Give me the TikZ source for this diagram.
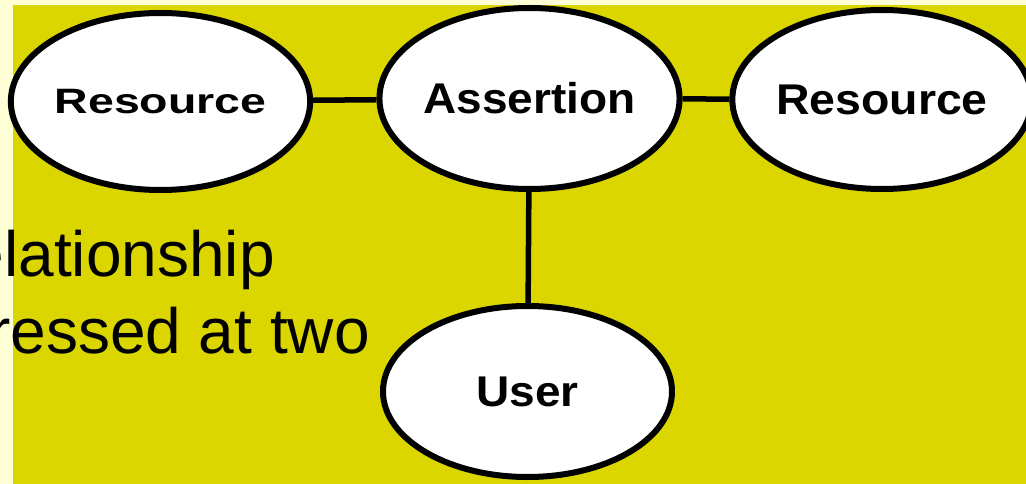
\documentclass[tikz,border=0pt]{standalone}
\usepackage{fontspec}
\setmainfont{Liberation Sans}
\usepackage{tikz}
\usetikzlibrary{shapes.geometric}

\definecolor{slideyellow}{RGB}{220,214,0}
\definecolor{slidecream}{RGB}{255,255,214}

\tikzset{
  entity/.style={ellipse,draw=black,line width=6pt,fill=white,inner sep=0pt,
    font=\fontsize{43}{50}\selectfont\bfseries},
  link/.style={black,line width=5.5pt}
}

\begin{document}
\begin{tikzpicture}[x=1pt,y=-1pt]

          \useasboundingbox (0,0) rectangle (1026,484);
          \clip (0,0) rectangle (1026,484);

          \fill[slideyellow] (0,0) rectangle (1026,484);
          \fill[slidecream] (0,0) rectangle (13,484);
          \fill[slidecream] (0,0) rectangle (1026,5);

          % text of the slide behind the picture
          \node[anchor=base east,inner sep=0pt,font=\fontsize{64}{77}\selectfont] (line1) at (275,276) {elationship};
          \node[anchor=base east,inner sep=0pt,font=\fontsize{64}{77}\selectfont] (line2) at (370,353) {ressed at two};

          \node[entity,minimum width=289pt,minimum height=177pt] (resleft) at (160.5,101.5) {\scalebox{1.08}[0.82]{Resource}};
          \node[entity,minimum width=289pt,minimum height=181pt] (assertion) at (529.5,98.5) {\scalebox{1.07}[1]{Assertion}};
          \node[entity,minimum width=282pt,minimum height=179pt] (resright) at (882,99.5) {\scalebox{1.08}[1]{Resource}};
          \node[entity,minimum width=289pt,minimum height=171pt] (user) at (527.5,391.5) {\scalebox{1.07}[1]{User}};

          \draw[link] (resleft) -- (assertion);
          \draw[link] (assertion) -- (resright);
          \draw[link] (assertion) -- (user);

\end{tikzpicture}
\end{document}
